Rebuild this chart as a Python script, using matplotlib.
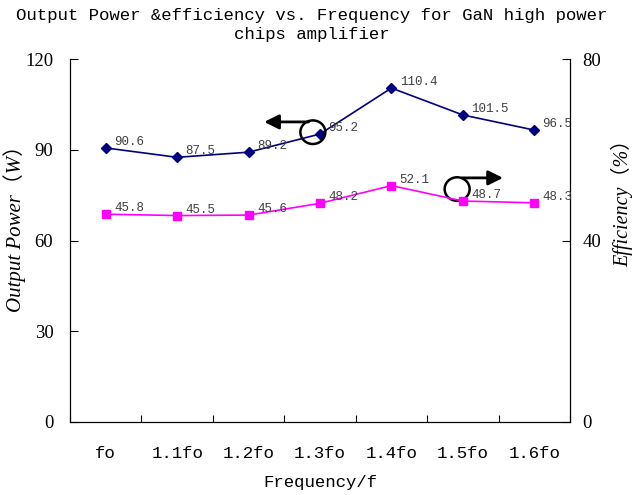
import matplotlib
matplotlib.use("Agg")
import matplotlib.pyplot as plt
from matplotlib.patches import Ellipse

categories = ["fo", "1.1fo", "1.2fo", "1.3fo", "1.4fo", "1.5fo", "1.6fo"]
output_power = [90.6, 87.5, 89.2, 95.2, 110.4, 101.5, 96.5]
efficiency = [45.8, 45.5, 45.6, 48.2, 52.1, 48.7, 48.3]

MONO = ["Liberation Mono", "Noto Sans CJK SC", "DejaVu Sans"]
SERIF = ["Liberation Serif", "Noto Sans CJK SC", "DejaVu Sans"]
plt.rcParams["font.family"] = MONO

fig = plt.figure(figsize=(6.36, 4.95), dpi=100)
ax1 = fig.add_axes([70/636, 73/495, 500/636, 363/495])
ax2 = ax1.twinx()

x = list(range(len(categories)))
ax1.plot(x, output_power, color="#000080", marker="D", markersize=5, lw=1.2, zorder=3)
ax2.plot(x, efficiency, color="#FF00FF", marker="s", markersize=6, lw=1.2, zorder=3)

for xi, v in zip(x, output_power):
    ax1.annotate(f"{v}", (xi, v), xytext=(6, 0), textcoords="offset points",
                 ha="left", va="bottom", fontsize=9, color="#404040")
for xi, v in zip(x, efficiency):
    ax2.annotate(f"{v}", (xi, v), xytext=(6, 0), textcoords="offset points",
                 ha="left", va="bottom", fontsize=9, color="#404040")

ax1.set_xlim(-0.5, len(categories) - 0.5)
ax1.set_ylim(0, 120)
ax2.set_ylim(0, 80)
ax1.set_yticks([0, 30, 60, 90, 120])
ax2.set_yticks([0, 40, 80])

ax1.set_xticks([i - 0.5 for i in range(len(categories) + 1)])
ax1.set_xticklabels([])
ax1.set_xticks(x, minor=True)
ax1.set_xticklabels(categories, minor=True, fontsize=12.5)
ax1.tick_params(axis="x", which="major", direction="in", length=5)
ax1.tick_params(axis="x", which="minor", length=0, pad=17)
ax1.tick_params(axis="y", direction="in", length=6, pad=12)
ax2.tick_params(axis="y", direction="in", length=6, pad=9)
for lab in ax1.get_yticklabels() + ax2.get_yticklabels():
    lab.set_family(SERIF)
    lab.set_fontsize(13.5)

for ax in (ax1, ax2):
    ax.spines["top"].set_visible(False)

ax1.set_xlabel("Frequency/f", fontsize=12.5, labelpad=10)
ax1.set_ylabel("Output Power（W）", fontsize=15, style="italic", family=SERIF,
               va="center", ha="center")
ax2.set_ylabel("Efficiency（%）", fontsize=14.5, style="italic", family=SERIF,
               va="center", ha="center")
ax1.yaxis.set_label_coords(-0.11, 0.548)
ax2.yaxis.set_label_coords(1.104, 0.617)

fig.text(0.49, 1 - 8/495, "Output Power &efficiency vs. Frequency for GaN high power\nchips amplifier",
         fontsize=12.5, ha="center", va="top", linespacing=1.35)

# decorative arrows and circles (in ax1 data coordinates)
ax1.add_patch(Ellipse((2.9, 95.8), 0.35, 7.8, fill=False, lw=1.8, color="black", zorder=5))
ax1.annotate("", xy=(2.18, 99.2), xytext=(2.88, 99.2),
             arrowprops=dict(arrowstyle="-|>", mutation_scale=22, lw=2, color="black"), zorder=5)
ax1.add_patch(Ellipse((4.92, 77.0), 0.35, 7.8, fill=False, lw=1.8, color="black", zorder=5))
ax1.annotate("", xy=(5.6, 80.7), xytext=(4.95, 80.7),
             arrowprops=dict(arrowstyle="-|>", mutation_scale=22, lw=2, color="black"), zorder=5)

fig.savefig("out.png", dpi=100)
